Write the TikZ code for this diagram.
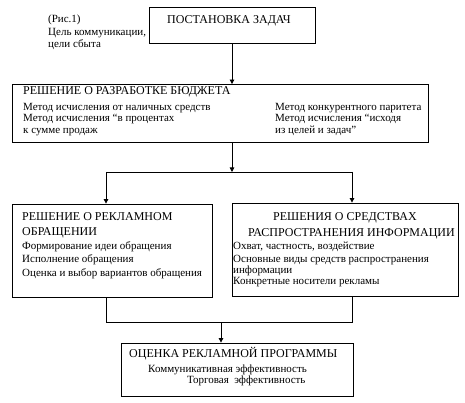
\documentclass[tikz,border=0pt]{standalone}
\usepackage{fontspec}
\setmainfont{Liberation Serif}
\usetikzlibrary{arrows.meta, positioning}

\begin{document}
\begin{tikzpicture}[
        x=1pt, y=-1pt,
        block/.style={rectangle, draw, line width=0.8pt, inner sep=0pt},
        txt/.style={anchor=base west, inner sep=0pt, font=\fontsize{11}{13}\selectfont},
        head/.style={txt, font=\fontsize{12}{13}\selectfont},
        arr/.style={-{Triangle[length=4.5pt, width=4.5pt]}, line width=0.8pt},
        ln/.style={line width=0.8pt}
    ]
        \useasboundingbox (0,0) rectangle (465,403);

        % Blocks
        \node[block, minimum width=166pt, minimum height=36pt] (tasks) at (232,25) {};
        \node[block, minimum width=416pt, minimum height=57.5pt] (budget) at (220,113.25) {};
        \node[block, minimum width=200pt, minimum height=93pt] (message) at (112,250.5) {};
        \node[block, minimum width=226pt, minimum height=93pt] (media) at (345,249.5) {};
        \node[block, minimum width=232pt, minimum height=53pt] (eval) at (237,369.5) {};

        % Figure caption
        \node[txt] (figA) at (48,23) {(Рис.1)};
        \node[txt] (figB) at (48,36) {Цель коммуникации,};
        \node[txt] (figC) at (48,48) {цели сбыта};

        % Task setting
        \node[head] (tasksH) at (167,24) {ПОСТАНОВКА ЗАДАЧ};

        % Budget
        \node[head] (budgetH) at (23,95) {РЕШЕНИЕ О РАЗРАБОТКЕ БЮДЖЕТА};
        \node[txt] (budgetL1) at (23,111) {Метод исчисления от наличных средств};
        \node[txt] (budgetL2) at (23,122) {Метод исчисления “в процентах};
        \node[txt] (budgetL3) at (23,134) {к сумме продаж};
        \node[txt] (budgetR1) at (275,111) {Метод конкурентного паритета};
        \node[txt] (budgetR2) at (275,122) {Метод исчисления “исходя};
        \node[txt] (budgetR3) at (275,134) {из целей и задач”};

        % Message
        \node[head] (messageH1) at (22,220) {РЕШЕНИЕ О РЕКЛАМНОМ};
        \node[head] (messageH2) at (22,235) {ОБРАЩЕНИИ};
        \node[txt] (message1) at (22,249) {Формирование идеи обращения};
        \node[txt] (message2) at (22,262) {Исполнение обращения};
        \node[txt] (message3) at (22,276) {Оценка и выбор вариантов обращения};

        % Media
        \node[head] (mediaH1) at (273,220) {РЕШЕНИЯ О СРЕДСТВАХ};
        \node[head] (mediaH2) at (248,236) {РАСПРОСТРАНЕНИЯ ИНФОРМАЦИИ};
        \node[txt] (media1) at (233,249) {Охват, частность, воздействие};
        \node[txt] (media2) at (233,262) {Основные виды средств распространения};
        \node[txt] (media3) at (233,273) {информации};
        \node[txt] (media4) at (233,284) {Конкретные носители рекламы};

        % Evaluation
        \node[head] (evalH) at (129,357) {ОЦЕНКА РЕКЛАМНОЙ ПРОГРАММЫ};
        \node[txt] (eval1) at (148,372) {Коммуникативная эффективность};
        \node[txt] (eval2) at (187,383) {Торговая\ \ эффективность};

        % Connectors
        \coordinate (split) at (232,172);
        \coordinate (splitL) at (106,172);
        \coordinate (splitR) at (352,172);
        \coordinate (joinL) at (106,322);
        \coordinate (joinR) at (352,322);
        \coordinate (join) at (221,322);

        \draw[arr] (tasks.south) -- (tasks.south |- budget.north);
        \draw[arr] (budget.south -| tasks.south) -- (split);
        \draw[ln] (splitL) -- (splitR);
        \draw[arr] (splitL) -- (splitL |- message.north);
        \draw[arr] (splitR) -- (splitR |- media.north);
        \draw[ln] (joinL |- message.south) -- (joinL) -- (joinR) -- (joinR |- media.south);
        \draw[arr] (join) -- (join |- eval.north);
    \end{tikzpicture}
\end{document}
